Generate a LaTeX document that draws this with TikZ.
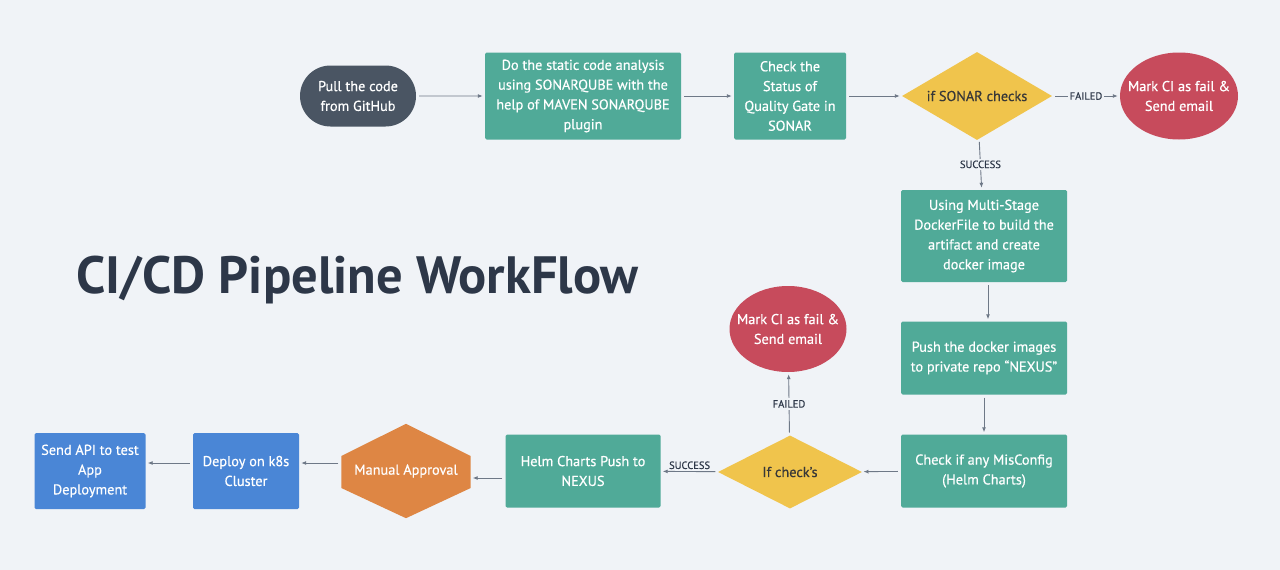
\documentclass[tikz,border=0pt]{standalone}
\usepackage{fontspec}
\setmainfont{PT Sans}
\newfontfamily\boxfont{PT Sans}[FakeBold=0.5]
\usetikzlibrary{shapes.geometric,shapes.misc,arrows.meta,positioning}
\definecolor{pagebg}{RGB}{240,243,247}
\definecolor{tealbox}{RGB}{80,170,152}
\definecolor{slatepill}{RGB}{74,85,99}
\definecolor{gateyellow}{RGB}{240,196,76}
\definecolor{failred}{RGB}{199,75,92}
\definecolor{approvalorange}{RGB}{222,134,68}
\definecolor{deployblue}{RGB}{74,134,214}
\definecolor{flowgray}{RGB}{110,120,135}
\definecolor{titleink}{RGB}{45,55,72}

\begin{document}
\begin{tikzpicture}[
    x=1pt, y=-1pt,
    every node/.style={font=\boxfont\fontsize{14.3}{19.8}\selectfont, align=center},
    stage/.style={rectangle, rounded corners=1.5pt, fill=tealbox, text=white, inner sep=0pt},
    gate/.style={diamond, fill=gateyellow, text=black!78, inner sep=0pt, aspect=1.7},
    failnode/.style={ellipse, fill=failred, inner sep=0pt},
    release/.style={rectangle, rounded corners=1.5pt, fill=deployblue, text=white, inner sep=0pt},
    flow/.style={draw=flowgray, line width=0.9pt, -{Latex[length=5pt,width=4pt]}, shorten <=3pt, shorten >=2pt},
    tag/.style={font=\boxfont\fontsize{10.5}{12}\selectfont, text=titleink, fill=pagebg, inner sep=2pt}
]
\useasboundingbox[fill=pagebg] (0,0) rectangle (1280,570);

% title
\node[anchor=base west, font=\fontsize{52.5}{60}\selectfont\bfseries, text=titleink] (title) at (73,293) {CI/CD Pipeline WorkFlow};

% CI part
\node[rounded rectangle, fill=slatepill, text=white, minimum width=116pt, minimum height=61pt, inner sep=0pt] (pull) at (358,96) {Pull the code\\from GitHub};
\node[stage, minimum width=196pt, minimum height=87pt] (static) at (583,96) {Do the static code analysis\\using SONARQUBE with the\\help of MAVEN SONARQUBE\\plugin};
\node[stage, minimum width=112pt, minimum height=87pt] (quality) at (790,96) {Check the\\Status of\\Quality Gate in\\SONAR};
\node[gate, minimum width=150pt, minimum height=88pt] (sonar) at (977,96) {if SONAR checks};
\node[failnode, minimum width=118pt, minimum height=87pt, label={[text=white]center:Mark CI as fail \&\\Send email}] (cifail) at (1179,96) {};
\node[stage, minimum width=166pt, minimum height=92pt] (docker) at (984,236) {Using Multi-Stage\\DockerFile to build the\\artifact and create\\docker image};
\node[stage, minimum width=166pt, minimum height=73pt] (push) at (984,358) {Push the docker images\\to private repo “NEXUS”};
\node[stage, minimum width=166pt, minimum height=73pt] (misconf) at (984,471) {Check if any MisConfig\\(Helm Charts)};

% CD part
\node[gate, minimum width=144pt, minimum height=73pt] (helmgate) at (790,472) {If check’s};
\node[failnode, minimum width=117pt, minimum height=86pt, label={[text=white]center:Mark CI as fail \&\\Send email}] (cdfail) at (788,329) {};
\node[stage, minimum width=155pt, minimum height=73pt] (helm) at (583,471) {Helm Charts Push to\\NEXUS};
\node[minimum width=129pt, minimum height=94pt, inner sep=0pt] (approval) at (406,471) {};
\fill[approvalorange] (approval.north) -- (approval.east |- 0,456) -- (approval.east |- 0,488)
    -- (approval.south) -- (approval.west |- 0,488) -- (approval.west |- 0,456) -- cycle;
\node[text=white] at (approval) {Manual Approval};
\node[release, minimum width=106pt, minimum height=76pt] (k8s) at (246,471) {Deploy on k8s\\Cluster};
\node[release, minimum width=111pt, minimum height=76pt] (apitest) at (90,471) {Send API to test\\App\\Deployment};

% connectors
\draw[flow] (pull) -- (static);
\draw[flow] (static) -- (quality);
\draw[flow] (quality) -- (sonar);
\draw[flow] (sonar) -- node[tag] {FAILED} (cifail);
\draw[flow] (sonar) -- node[tag] {SUCCESS} (docker);
\draw[flow] ([xshift=4pt]docker.south) -- ([xshift=4pt]push.north);
\draw[flow] (push) -- (misconf);
\draw[flow] (misconf) -- (helmgate);
\draw[flow] (helmgate) -- node[tag] {FAILED} (cdfail);
\draw[flow] (helmgate) -- node[tag, above, fill=none] {SUCCESS} (helm);
\draw[flow] ([yshift=-7pt]helm.west) -- ([yshift=-7pt]approval.east);
\draw[flow] ([yshift=8pt]approval.west) -- ([yshift=8pt]k8s.east);
\draw[flow] ([yshift=8pt]k8s.west) -- ([yshift=8pt]apitest.east);
\end{tikzpicture}
\end{document}
